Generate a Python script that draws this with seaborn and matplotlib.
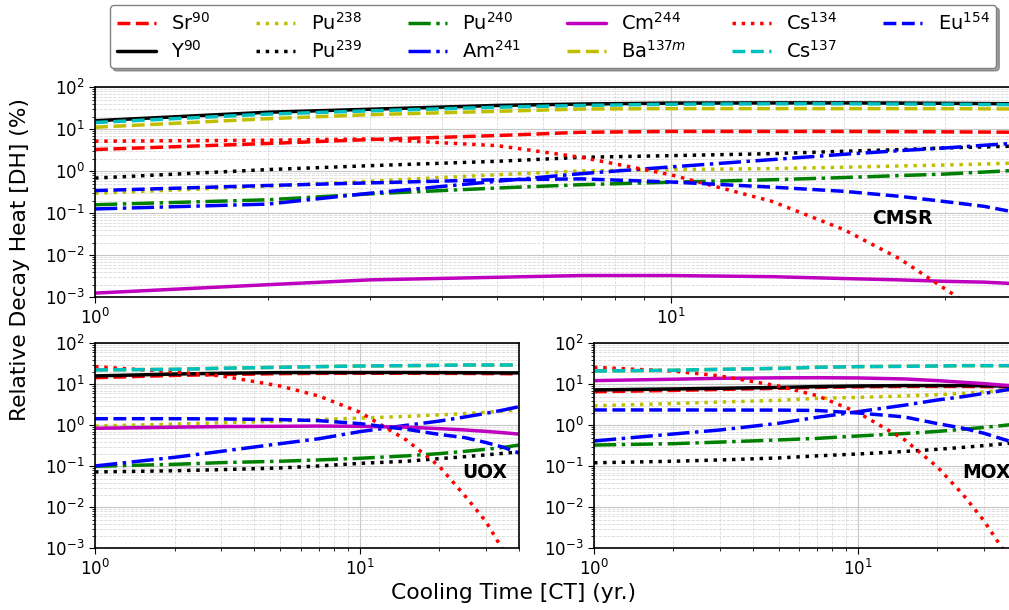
import numpy as np
import matplotlib
matplotlib.use("Agg")
import matplotlib.pyplot as plt
import seaborn as sns

# Cooling time (yr)
t = [1, 2, 3, 5, 7, 10, 15, 20, 25, 30, 35, 40]

nuclides = ["Sr90", "Y90", "Pu238", "Pu239", "Pu240", "Am241",
            "Cm244", "Ba137m", "Cs134", "Cs137", "Eu154"]
labels = ["Sr$^{90}$", "Y$^{90}$", "Pu$^{238}$", "Pu$^{239}$", "Pu$^{240}$",
          "Am$^{241}$", "Cm$^{244}$", "Ba$^{137m}$", "Cs$^{134}$", "Cs$^{137}$",
          "Eu$^{154}$"]

# CMSR relative decay heat (%)
cmsr_sr90 = [3.3, 4.6, 5.7, 7.1, 8.5, 8.9, 8.9, 8.9, 8.8, 8.7, 8.6, 8.5]
cmsr_y90 = [16, 25.5, 30, 37, 40, 42, 42.5, 42.5, 42, 41.5, 41, 40.5]
cmsr_pu238 = [0.30, 0.44, 0.58, 0.83, 1.02, 1.1, 1.16, 1.25, 1.34, 1.41, 1.49, 1.58]
cmsr_pu239 = [0.69, 1.1, 1.36, 1.73, 2.15, 2.36, 2.63, 3.0, 3.28, 3.6, 3.8, 4.0]
cmsr_pu240 = [0.16, 0.21, 0.29, 0.40, 0.48, 0.55, 0.63, 0.71, 0.79, 0.86, 0.96, 1.06]
cmsr_am241 = [0.127, 0.166, 0.30, 0.58, 0.88, 1.27, 1.9, 2.54, 3.1, 3.6, 4.16, 4.7]
cmsr_cm244 = [0.00126, 0.0020, 0.0026, 0.0030, 0.0033, 0.0033, 0.0031, 0.0028, 0.0026, 0.0024, 0.0023, 0.0021]
cmsr_ba137m = [11.2, 17.9, 22.3, 26.8, 30.4, 31, 31, 31, 31, 31, 30.7, 30.4]
cmsr_cs134 = [5.2, 5.5, 5.9, 4.08, 2.15, 0.83, 0.193, 0.041, 0.0083, 0.00158, 0.00039, 0.000115]
cmsr_cs137 = [14.5, 23, 27.5, 33.5, 37, 39.5, 40.5, 40.5, 40, 39.5, 39, 38.5]
cmsr_eu154 = [0.347, 0.46, 0.53, 0.63, 0.66, 0.557, 0.42, 0.334, 0.254, 0.19, 0.147, 0.104]

# UOX relative decay heat (%)
uox_sr90 = [14.5, 16.5, 17.3, 18.2, 18.5, 18.6, 18.6, 18.5, 18.4, 18.3, 18.2, 18.0]
uox_y90 = [16, 17.8, 18.6, 19.3, 19.4, 19.4, 19.4, 19.3, 19.2, 19.1, 19.0, 19.0]
uox_pu238 = [0.96, 1.07, 1.15, 1.27, 1.38, 1.5, 1.65, 1.8, 1.93, 2.08, 2.22, 2.35]
uox_pu239 = [0.073, 0.078, 0.083, 0.091, 0.102, 0.118, 0.133, 0.154, 0.172, 0.19, 0.208, 0.224]
uox_pu240 = [0.10, 0.112, 0.123, 0.133, 0.143, 0.157, 0.18, 0.204, 0.232, 0.26, 0.29, 0.33]
uox_am241 = [0.102, 0.166, 0.232, 0.357, 0.47, 0.70, 1.0, 1.27, 1.6, 1.96, 2.37, 2.85]
uox_cm244 = [0.845, 0.9, 0.93, 0.945, 0.96, 0.945, 0.9, 0.83, 0.77, 0.71, 0.66, 0.61]
uox_ba137m = [22.4, 23.2, 24.6, 26, 27, 28, 28.5, 29, 29.6, 29.6, 29.6, 29.6]
uox_cs134 = [27, 20, 16, 9.1, 5.2, 2.1, 0.44, 0.10, 0.019, 0.0045, 0.00085, 0.00015]
uox_cs137 = [22.4, 23.2, 24.6, 26, 27, 28, 28.5, 29, 29.6, 29.6, 29.6, 29.6]
uox_eu154 = [1.45, 1.45, 1.43, 1.38, 1.3, 1.1, 0.8, 0.6, 0.5, 0.38, 0.29, 0.21]

# MOX relative decay heat (%)
mox_sr90 = [6.6, 7.1, 7.5, 8.0, 8.4, 8.7, 8.9, 8.9, 8.9, 8.8, 8.7, 8.6]
mox_y90 = [7.3, 7.7, 8.0, 8.4, 8.8, 9.1, 9.3, 9.3, 9.3, 9.2, 9.1, 8.9]
mox_pu238 = [3.0, 3.4, 3.7, 4.07, 4.55, 4.8, 5.2, 5.6, 6.0, 6.5, 7.1, 7.7]
mox_pu239 = [0.122, 0.133, 0.143, 0.16, 0.18, 0.2, 0.23, 0.26, 0.29, 0.32, 0.35, 0.38]
mox_pu240 = [0.33, 0.357, 0.39, 0.44, 0.48, 0.55, 0.63, 0.71, 0.8, 0.89, 0.98, 1.08]
mox_am241 = [0.415, 0.615, 0.77, 1.12, 1.57, 2.15, 3.1, 4.15, 5.0, 6.0, 7.0, 8.0]
mox_cm244 = [12.3, 13.3, 14, 14.4, 14.5, 14.3, 13.5, 12.3, 11.2, 10.4, 9.6, 9.1]
mox_ba137m = [21.1, 22, 23.2, 24.5, 26, 27, 27.5, 28, 28.5, 28.5, 28.5, 28.5]
mox_cs134 = [26, 21, 16, 9.1, 5.3, 2.04, 0.447, 0.096, 0.0204, 0.0047, 0.00105, 0.0003]
mox_cs137 = [21.1, 22, 23.2, 24.5, 26, 27, 27.5, 28, 28.5, 28.5, 28.5, 28.5]
mox_eu154 = [2.37, 2.37, 2.36, 2.35, 2.3, 2.0, 1.6, 1.1, 0.85, 0.64, 0.47, 0.36]

panels = {
    "CMSR": [cmsr_sr90, cmsr_y90, cmsr_pu238, cmsr_pu239, cmsr_pu240, cmsr_am241,
             cmsr_cm244, cmsr_ba137m, cmsr_cs134, cmsr_cs137, cmsr_eu154],
    "UOX": [uox_sr90, uox_y90, uox_pu238, uox_pu239, uox_pu240, uox_am241,
            uox_cm244, uox_ba137m, uox_cs134, uox_cs137, uox_eu154],
    "MOX": [mox_sr90, mox_y90, mox_pu238, mox_pu239, mox_pu240, mox_am241,
            mox_cm244, mox_ba137m, mox_cs134, mox_cs137, mox_eu154],
}

colors = ["r", "k", "y", "k", "g", "b", "m", "y", "r", "c", "b"]
styles = ["--", "-", ":", ":", "-.", "-.", "-", "--", ":", "--", "--"]

sns.set_style("ticks")
plt.rcParams["font.family"] = ["DejaVu Sans"]
for key in ["text.color", "axes.labelcolor", "xtick.color", "ytick.color", "axes.edgecolor"]:
    plt.rcParams[key] = "black"

fig = plt.figure(figsize=(10.09, 6.10), dpi=100)
ax_top = fig.add_axes([0.0942, 0.5126, 0.9138, 0.3443])
ax_uox = fig.add_axes([0.0942, 0.1011, 0.4202, 0.3361])
ax_mox = fig.add_axes([0.5887, 0.1011, 0.4192, 0.3361])

axes = {"CMSR": ax_top, "UOX": ax_uox, "MOX": ax_mox}
text_pos = {"CMSR": (0.876, 0.373), "UOX": (0.92, 0.372), "MOX": (0.927, 0.372)}

for name, ax in axes.items():
    series = panels[name]
    for i, vals in enumerate(series):
        sns.lineplot(x=t, y=vals, ax=ax, color=colors[i], linestyle=styles[i],
                     linewidth=2.5, label=labels[i] if name == "CMSR" else None,
                     legend=False)
    ax.set_xscale("log")
    ax.set_yscale("log")
    ax.set_xlim(1, 40)
    ax.set_ylim(1e-3, 1e2)
    ax.yaxis.set_major_locator(matplotlib.ticker.LogLocator(base=10, numticks=10))
    ax.yaxis.set_minor_locator(matplotlib.ticker.LogLocator(base=10, subs=np.arange(2, 10), numticks=20))
    ax.grid(True, which="major", color="0.78", linewidth=0.8)
    ax.grid(True, which="minor", color="0.85", linewidth=0.6, linestyle="--")
    ax.tick_params(axis="both", which="major", labelsize=12, length=4, colors="black")
    ax.tick_params(axis="both", which="minor", length=2.5, colors="black")
    ax.set_xlabel("")
    ax.set_ylabel("")
    for s in ax.spines.values():
        s.set_linewidth(1.2)
        s.set_color("black")
    ax.text(*text_pos[name], name, transform=ax.transAxes, fontsize=13.5,
            fontweight="bold", ha="center", va="center", color="black")

handles, lbls = ax_top.get_legend_handles_labels()
ax_top.legend(handles, lbls, ncol=6, loc="lower center", bbox_to_anchor=(0.497, 1.045),
              fontsize=14, labelspacing=0.3, columnspacing=2.35, shadow=True,
              fancybox=True, framealpha=1, edgecolor="0.5", borderpad=0.35)

fig.text(0.02, 0.574, "Relative Decay Heat [DH] (%)", rotation=90,
         ha="center", va="center", fontsize=15.7)
fig.text(0.509, 0.028, "Cooling Time [CT] (yr.)", ha="center", va="center",
         fontsize=15.7)

fig.savefig("out.png", dpi=100)
